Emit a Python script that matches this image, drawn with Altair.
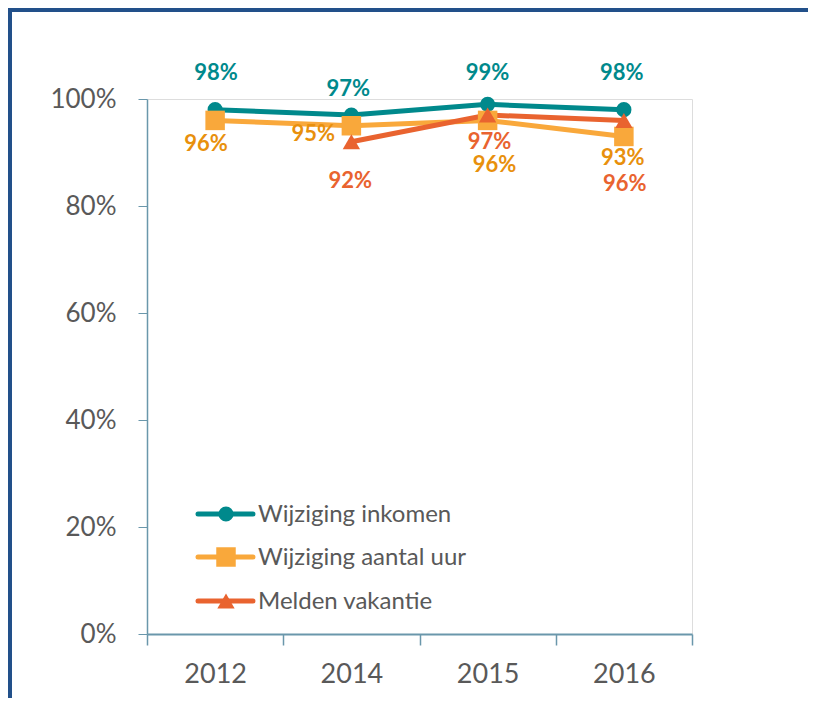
import altair as alt
import pandas as pd

years = ["2012", "2014", "2015", "2016"]
series = ["Wijziging inkomen", "Wijziging aantal uur", "Melden vakantie"]
inkomen = [0.98, 0.97, 0.99, 0.98]
aantal_uur = [0.96, 0.95, 0.96, 0.93]
vakantie = [None, 0.92, 0.97, 0.96]

line_colors = ["#00898C", "#F9A83B", "#E9632F"]
label_colors = ["#00898C", "#E8900C", "#E9632F"]
shapes = ["circle", "square", "triangle-up"]
sizes = [230, 380, 300]

rows = []
for s, vals in zip(series, [inkomen, aantal_uur, vakantie]):
    for y, v in zip(years, vals):
        if v is not None:
            rows.append({"series": s, "year": y, "value": v, "label": f"{round(v * 100)}%"})
df = pd.DataFrame(rows)

FONT = "Lato"
GREY = "#595959"
AXIS = "#6A97AB"

x_enc = alt.X("year:N", sort=years,
              scale=alt.Scale(type="band", paddingInner=0, paddingOuter=0, domain=years),
              axis=alt.Axis(title=None, tickBand="extent", tickSize=11, domainColor=AXIS,
                            tickColor=AXIS, domainWidth=2, tickWidth=1.5, grid=False,
                            labelFontSize=27, labelColor=GREY, labelFont=FONT,
                            labelPadding=16, labelAngle=0))
y_enc = alt.Y("value:Q", scale=alt.Scale(domain=[0, 1]),
              axis=alt.Axis(title=None, values=[0, 0.2, 0.4, 0.6, 0.8, 1.0], format=".0%",
                            tickSize=9, domainColor=AXIS, tickColor=AXIS, domainWidth=1.5,
                            labelFontSize=26, labelColor=GREY, labelFont=FONT,
                            labelPadding=22, grid=False))

base = alt.Chart(df)
layers = []

# outer frame (left and top border) drawn as rects
frame = alt.Chart(pd.DataFrame({"a": [0]}))
layers.append(frame.mark_rect(color="#22508A", clip=False)
              .encode(x=alt.value(-139), x2=alt.value(-135),
                      y=alt.value(-91), y2=alt.value(620)))
layers.append(frame.mark_rect(color="#22508A", clip=False)
              .encode(x=alt.value(-139), x2=alt.value(661),
                      y=alt.value(-91), y2=alt.value(-87)))

for i, s in enumerate(series):
    sub = base.transform_filter(alt.datum.series == s)
    layers.append(sub.mark_line(color=line_colors[i], strokeWidth=5, clip=False)
                  .encode(x=x_enc, y=y_enc))
for i, s in enumerate(series):
    sub = base.transform_filter(alt.datum.series == s)
    layers.append(sub.mark_point(shape=shapes[i], filled=True, opacity=1, size=sizes[i],
                                 color=line_colors[i], clip=False)
                  .encode(x=x_enc, y=y_enc))

# label offsets (dx, dy) per series / year
offsets = {
    (0, "2012"): (1, -37), (0, "2014"): (-3, -26), (0, "2015"): (0, -31), (0, "2016"): (-2, -37),
    (1, "2012"): (-9, 24), (1, "2014"): (-38, 8), (1, "2015"): (7, 45), (1, "2016"): (-1, 22),
    (2, "2014"): (-1, 39), (2, "2015"): (2, 27), (2, "2016"): (1, 64),
}
for (i, yr), (dx, dy) in offsets.items():
    sub = base.transform_filter((alt.datum.series == series[i]) & (alt.datum.year == yr))
    layers.append(sub.mark_text(font=FONT, fontWeight="bold", fontSize=22,
                                color=label_colors[i], dx=dx, dy=dy, baseline="middle",
                                align="center", clip=False)
                  .encode(x=x_enc, y=y_enc, text="label:N"))

# manual legend
leg_y = [415, 458, 502]
for i, s in enumerate(series):
    leg = alt.Chart(pd.DataFrame({"series": [s]}))
    layers.append(leg.mark_rule(color=line_colors[i], strokeWidth=5, strokeCap="round")
                  .encode(x=alt.value(51), x2=alt.value(106), y=alt.value(leg_y[i])))
    layers.append(leg.mark_point(shape=shapes[i], filled=True, opacity=1,
                                 size=sizes[i], color=line_colors[i])
                  .encode(x=alt.value(79), y=alt.value(leg_y[i])))
    layers.append(leg.mark_text(font=FONT, fontSize=24, color=GREY, align="left",
                                baseline="middle")
                  .encode(x=alt.value(111), y=alt.value(leg_y[i] + 1), text="series:N"))

chart = alt.layer(*layers).properties(
    width=545, height=535,
    autosize=alt.AutoSizeParams(type="none"),
    padding={"left": 139, "top": 91, "right": 116, "bottom": 64},
).configure_view(strokeWidth=0, stroke="transparent", fill="white"
).configure_axis(grid=False).configure(background="white")

chart.save("out.html", embed_options={"renderer": "svg", "actions": False})
